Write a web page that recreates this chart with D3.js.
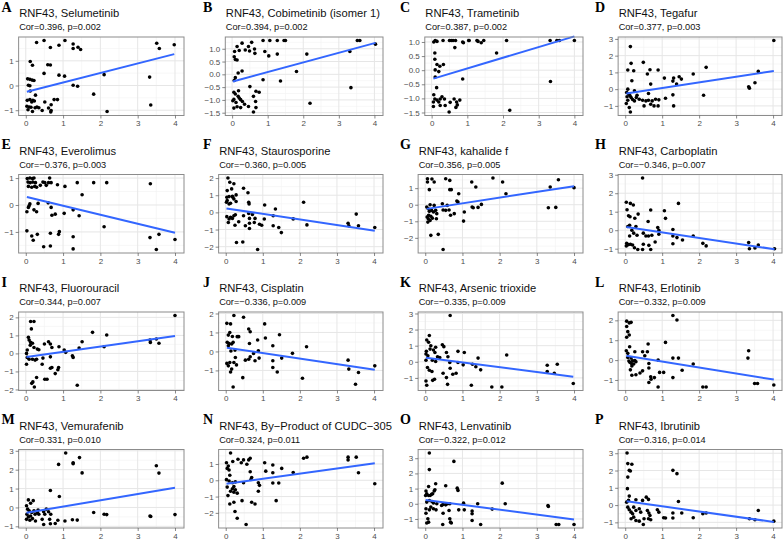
<!DOCTYPE html>
<html>
<head>
<meta charset="utf-8">
<style>
  body { margin: 0; background: #fff; }
  svg { display: block; }
</style>
</head>
<body>
<script src="https://cdn.jsdelivr.net/npm/d3@7"></script>
<script>
const gene = 'RNF43';
const letters = ['A','B','C','D','E','F','G','H','I','J','K','L','M','N','O','P'];
const drugs = ['Selumetinib', 'Cobimetinib (isomer 1)', 'Trametinib', 'Tegafur',
  'Everolimus', 'Staurosporine', 'kahalide f', 'Carboplatin',
  'Fluorouracil', 'Cisplatin', 'Arsenic trioxide', 'Erlotinib',
  'Vemurafenib', 'By\u2212Product of CUDC\u2212305', 'Lenvatinib', 'Ibrutinib'];
const cors = ['0.396', '0.394', '0.387', '0.377', '\u22120.376', '\u22120.360', '0.356', '\u22120.346',
  '0.344', '\u22120.336', '\u22120.335', '\u22120.332', '0.331', '0.324', '\u22120.322', '\u22120.316'];
const pvals = ['0.002', '0.002', '0.002', '0.003', '0.003', '0.005', '0.005', '0.007',
  '0.007', '0.009', '0.009', '0.009', '0.010', '0.011', '0.012', '0.014'];

// fitted line value at the smallest and largest x of each panel
const fitEnds = [[-0.25, 1.27], [-0.28, 1.23], [-0.3, 1.2], [-0.26, 1.08],
  [0.3, -1.03], [0.23, -1.07], [-0.25, 1.12], [0.17, -1.03],
  [-0.2, 0.97], [0.2, -0.97], [0.25, -0.93], [0.22, -0.98],
  [-0.28, 1.04], [-0.22, 1.04], [0.25, -1.03], [0.22, -0.98]];

const xTicks = [0, 1, 2, 3, 4];
const yTicks = [[-1, 0, 1], [-1.5, -1, -0.5, 0, 0.5, 1], [-1.5, -1, -0.5, 0, 0.5, 1], [-1, 0, 1, 2, 3],
  [-1, 0, 1], [-2, -1, 0, 1, 2], [-2, -1, 0, 1], [-1, 0, 1, 2, 3],
  [-2, -1, 0, 1, 2], [-1, 0, 1, 2], [-1, 0, 1, 2, 3], [-1, 0, 1, 2],
  [-1, 0, 1, 2, 3], [-2, -1, 0, 1], [-1, 0, 1, 2, 3], [-1, 0, 1, 2, 3]];

// [RNF43 expression, drug sensitivity]
const ptsA = [[0.29,1.74],[0.49,1.82],[1.05,1.82],[0.89,1.63],[0.66,1.54],[1.27,1.68],[1.27,1.50],[1.40,1.55],[1.47,1.46],[3.51,1.71],[3.58,1.50],[3.98,1.65],
  [0.12,0.97],[0.18,0.82],[0.59,0.84],[0.66,0.83],[0.49,0.49],[0.89,0.42],[1.04,0.38],[2.10,0.44],[3.32,0.34],
  [0.05,0.27],[0.11,0.25],[0.17,0.22],[0.22,0.20],[0.07,0.01],[0.11,-0.01],[1.27,0.01],[1.39,-0.03],
  [0.12,-0.22],[1.82,-0.35],[0.26,-0.39],[0.04,-0.60],[0.11,-0.57],[0.16,-0.67],[0.19,-0.60],[0.23,-0.63],[0.76,-0.57],[0.85,-0.57],[0.51,-0.67],[0.68,-0.78],[3.35,-0.79],
  [0.03,-0.84],[0.09,-0.87],[0.14,-0.88],[0.25,-0.90],[0.30,-0.87],[0.35,-0.90],[0.61,-0.91],[0.68,-1.01],[0.44,-1.01],[0.06,-0.98],[0.18,-1.05],[0.67,-1.07],[2.18,-1.05]];
const ptsB = [[0.87,1.32],[1.06,1.32],[1.27,1.32],[1.46,1.32],[1.50,1.32],[3.52,1.32],[3.59,1.32],[4.03,1.18],
  [0.55,1.25],[0.28,1.22],[0.14,1.09],[0.07,0.89],[0.20,0.93],[0.46,1.09],[0.49,0.91],[0.63,0.99],[0.64,0.82],[0.37,0.95],
  [0.92,0.89],[1.03,0.72],[1.27,0.79],[2.10,0.79],[3.31,0.89],[0.06,0.69],[0.09,0.58],[0.14,0.56],
  [0.17,0.05],[0.28,0.13],[1.81,0.11],[0.06,-0.24],[0.09,-0.13],[0.87,-0.21],[1.36,-0.26],[0.50,-0.48],[3.34,-0.52],
  [0.05,-0.70],[0.09,-0.77],[0.18,-0.64],[0.17,-0.86],[0.20,-0.93],[0.67,-0.66],[0.76,-0.70],[0.60,-0.86],
  [0.02,-1.03],[0.05,-0.98],[0.11,-1.10],[0.24,-0.99],[0.29,-1.06],[0.35,-1.17],[0.14,-1.27],[0.24,-1.30],[0.05,-1.32],[0.46,-1.26],[0.66,-1.06],[0.67,-1.30],[0.60,-1.47],[2.19,-1.13]];
const ptsC = [[0.06,1.0],[0.10,1.05],[0.15,1.02],[0.32,1.05],[0.50,1.05],[0.55,1.05],[0.60,1.05],[0.67,1.05],[0.87,1.0],[0.89,0.97],[1.04,1.05],[1.05,1.05],[1.27,1.05],[1.30,1.02],[1.39,0.97],[1.46,1.05],[2.10,1.05],[3.32,1.05],[3.51,1.05],[3.58,1.05],[4.0,1.05],
  [0.65,0.80],[0.09,0.61],[0.09,0.39],[0.15,0.20],[0.23,0.14],[0.33,0.20],[0.10,0.01],[0.20,-0.05],[0.10,-0.24],[0.14,-0.62],[1.82,0.61],[0.87,-0.31],[3.33,-0.40],
  [0.06,-0.87],[0.09,-1.02],[0.05,-1.13],[0.05,-1.29],[0.15,-1.06],[0.20,-1.13],[0.24,-1.02],[0.29,-0.94],[0.36,-1.02],[0.24,-1.25],[0.38,-1.25],[0.49,-1.48],[0.52,-1.14],[0.63,-1.02],[0.70,-1.13],[0.72,-1.23],[0.68,-1.32],[0.79,-1.06],[2.19,-1.42]];
const ptsD = [[4.02,2.90],[0.14,2.54],[0.16,1.54],[0.49,1.60],[0.07,1.14],[0.23,1.10],[0.67,1.16],[0.89,1.14],[0.18,0.50],[0.69,0.30],[0.60,0.90],[1.84,0.90],[2.19,1.30],[3.60,1.06],
  [1.31,0.66],[1.46,0.74],[1.52,0.60],[1.06,0.66],[1.29,0.48],[1.39,0.30],[3.51,0.38],[3.34,0.14],[3.36,0.06],
  [0.07,0.0],[0.04,-0.20],[0.25,-0.10],[0.32,-0.36],[0.38,-0.60],[0.47,-0.66],[0.56,-0.70],[0.63,-0.66],[0.73,-0.70],[0.63,-0.26],[0.82,-0.60],[0.91,-0.64],[0.69,-0.90],[0.78,-1.0],[0.89,-1.0],[0.51,-1.0],[1.31,-1.0],[1.29,-0.34],[1.09,-0.54],[2.12,-0.36],
  [0.11,-1.10],[0.14,-1.36],[0.03,-0.86],[0.25,-0.70],[0.16,-0.50],[0.07,-0.66],[0.20,-0.62],[0.10,-0.30],[0.05,-0.45],[0.13,-0.40],[0.30,-0.50]];
const ptsE = [[0.04,0.98],[0.11,1.0],[0.18,0.98],[0.22,1.0],[0.06,0.85],[0.12,0.83],[0.19,0.85],[0.26,0.83],[0.07,0.69],[0.16,0.66],[0.24,0.69],[0.29,0.66],[0.39,0.73],[0.46,0.85],[0.51,0.83],[0.55,0.73],[0.61,0.83],[0.64,1.0],[0.68,0.83],[0.85,0.75],[1.05,0.69],[1.38,0.83],[1.82,0.83],[2.17,0.83],[3.34,0.79],
  [1.51,0.38],[0.11,0.04],[0.09,-0.03],[0.07,-0.09],[0.33,0.06],[0.60,0.08],
  [0.03,-0.25],[0.22,-0.18],[0.29,-0.25],[0.68,-0.09],[0.70,-0.38],[0.79,-0.34],[1.03,-0.31],[1.27,-0.18],[1.43,-0.40],[2.10,-0.81],
  [0.03,-0.96],[0.31,-1.09],[0.16,-1.15],[0.20,-1.31],[0.66,-1.05],[0.90,-0.99],[0.88,-1.09],[1.27,-1.18],[3.33,-1.21],[3.57,-1.09],[4.0,-1.28],
  [0.48,-1.55],[0.66,-1.52],[1.27,-1.63],[3.50,-1.65]];
const ptsF = [[0.06,2.0],[0.11,1.76],[0.22,1.67],[0.16,1.37],[0.48,1.41],[0.60,1.14],[0.62,0.59],[0.63,0.49],[0.28,1.02],
  [0.04,1.27],[0.03,0.88],[0.09,0.92],[0.18,0.94],[0.22,0.78],[0.04,0.69],[0.02,0.59],[0.09,0.49],[0.13,0.53],[0.19,0.88],[0.28,0.63],
  [0.07,-0.59],[0.13,-0.29],[0.18,-0.35],[0.09,-0.39],[0.22,-0.20],[0.03,-0.25],[0.26,-0.14],[0.48,-0.20],[0.62,-0.06],[0.64,-0.35],[0.72,-0.12],[0.79,-0.35],[0.25,-0.75],[0.35,-0.55],
  [0.53,-0.78],[0.64,-0.63],[0.64,-0.94],[0.77,-0.59],[0.91,-0.69],[0.97,-0.75],[1.05,0.43],[1.34,0.20],[1.04,-0.39],[1.28,-0.20],[1.28,-0.78],[1.43,-0.88],[1.50,-1.18],[1.82,-0.38],[2.10,0.59],[2.19,-0.73],[3.30,-0.63],[3.32,-0.78],[3.52,-0.10],[3.58,-0.78],[4.02,-0.88],
  [0.29,-1.76],[0.46,-1.73],[0.86,-2.16]];
const ptsG = [[0.06,1.57],[0.06,1.37],[0.18,1.55],[0.24,1.37],[0.55,1.57],[0.66,1.47],[1.82,1.61],[2.08,1.37],[3.36,1.07],[3.58,1.51],[4.0,1.03],[1.25,1.37],[1.36,1.07],
  [0.11,0.91],[0.66,0.91],[0.70,0.91],[0.90,0.66],[0.85,0.22],[0.88,0.16],[2.17,0.66],
  [0.46,0.06],[0.24,-0.04],[0.13,0.0],[0.59,-0.04],[1.51,0.02],[1.26,-0.14],[1.29,-0.18],[1.42,-0.16],[3.31,-0.18],[3.51,-0.16],
  [0.04,-0.14],[0.08,-0.24],[0.11,-0.40],[0.17,-0.34],[0.22,-0.44],[0.28,-0.34],[0.31,-0.54],[0.09,-0.64],[0.05,-0.74],[0.08,-0.85],[0.13,-0.95],[0.19,-0.81],[0.07,-1.05],[0.15,-0.70],
  [0.48,-0.32],[0.55,-0.34],[0.64,-0.32],[0.68,-0.64],[0.78,-0.54],[1.05,-0.44],[1.03,-0.99],[0.30,-0.85],
  [0.15,-1.85],[0.35,-1.79],[0.48,-2.70]];
const ptsH = [[0.47,2.82],[0.03,1.51],[0.14,1.45],[0.22,1.36],[1.44,1.45],
  [0.05,1.11],[0.09,0.78],[0.13,0.73],[0.35,0.87],[0.69,1.09],[1.06,1.05],[1.09,0.64],[0.26,0.65],
  [0.12,0.27],[0.07,0.20],[0.29,0.20],[0.62,0.47],[0.88,0.15],[0.91,0.0],[1.29,0.04],
  [0.18,0.0],[0.23,-0.16],[0.12,-0.31],[0.32,-0.27],[0.49,-0.16],[0.56,-0.31],[0.63,-0.31],[0.72,-0.27],[0.91,-0.22],[1.29,-0.31],[1.40,-0.40],[1.55,-0.53],[1.84,-0.31],[0.81,-0.64],
  [0.04,-0.71],[0.09,-0.78],[0.14,-0.76],[0.03,-0.85],[0.20,-0.80],[0.25,-0.95],[0.34,-1.04],[0.49,-0.76],[0.64,-0.82],[0.69,-1.04],[0.47,-1.04],[1.29,-0.73],[2.10,-0.71],[2.19,-0.85],[3.34,-0.67],[3.36,-1.0],[3.51,-0.96],[3.60,-0.80],[4.04,-1.0]];
const ptsI = [[4.0,2.10],[0.13,1.77],[0.22,1.77],[0.15,1.36],
  [1.79,1.17],[2.17,1.02],[1.51,0.65],[3.33,0.74],[3.50,0.80],[3.34,0.61],[3.57,0.56],
  [0.07,0.89],[0.09,0.74],[0.13,0.61],[0.18,0.56],[0.12,0.45],[0.61,0.65],[0.66,0.52],[0.70,0.33],[0.50,0.52],[0.89,0.37],[0.31,0.24],[0.35,0.20],[0.22,0.33],[0.04,0.19],[0.02,0.0],
  [1.03,0.19],[1.07,0.06],[1.43,0.30],[1.25,-0.13],[1.27,-0.22],[2.10,0.37],
  [0.04,-0.22],[0.09,-0.32],[0.18,-0.32],[0.25,-0.37],[0.29,-0.32],[0.02,-0.60],[0.46,-0.26],[0.66,-0.19],[0.44,-0.60],[0.70,-0.78],[0.66,-0.82],[0.88,-0.78],[0.86,-0.91],[0.79,-1.12],
  [0.29,-1.34],[0.19,-1.58],[0.16,-1.66],[0.23,-1.86],[0.51,-1.43],[0.57,-1.43],[1.38,-1.77]];
const ptsJ = [[0.22,1.89],[0.48,1.80],[0.03,1.48],[0.13,1.45],[1.05,1.45],
  [0.07,0.86],[0.18,0.79],[0.31,0.78],[0.35,0.78],[0.62,1.18],[0.66,1.04],[0.11,1.0],[0.64,0.42],[0.86,0.60],[1.07,0.71],[1.45,0.88],[1.27,0.30],[2.18,0.25],
  [0.04,0.48],[0.09,0.42],[0.16,0.39],[0.20,0.48],[0.07,0.30],[0.25,0.07],[0.14,0.02],
  [0.88,0.04],[0.75,-0.11],[0.66,-0.28],[0.62,-0.41],[0.53,-0.46],[0.79,-0.49],[0.90,-0.35],[1.51,-0.35],[1.80,-0.10],[1.27,-0.49],[1.27,-0.85],[1.39,-1.08],[2.07,-1.41],[3.30,-0.46],[3.32,-0.93],[3.58,-1.11],[3.50,-1.73],[4.02,-0.76],
  [0.03,-0.63],[0.07,-0.76],[0.11,-0.58],[0.22,-0.58],[0.26,-0.32],[0.29,-0.71],[0.16,-0.93],[0.13,-1.08],[0.46,-1.38],[0.20,-1.87]];
const ptsK = [[0.67,2.87],[0.11,1.63],[0.04,1.35],[0.09,1.21],[0.15,1.0],[0.46,1.06],[0.50,0.94],[0.13,0.79],[0.22,0.73],[0.28,0.90],[0.03,0.65],[0.57,0.58],[0.26,0.58],[1.05,0.58],[0.88,0.65],[2.19,0.42],
  [0.02,0.48],[0.07,0.38],[0.33,0.31],[0.39,0.27],[0.61,0.31],[1.42,0.23],
  [0.02,0.10],[0.19,0.10],[0.28,0.02],[0.66,-0.04],[0.88,-0.04],[1.02,-0.19],[1.27,-0.15],[1.36,-0.31],[1.49,-0.50],[3.28,-0.21],[3.55,-0.15],
  [0.06,-0.35],[0.11,-0.52],[0.18,-0.60],[0.48,-0.71],[0.57,-0.98],[0.67,-0.40],[0.74,-0.77],[0.83,-0.71],[3.28,-0.60],[3.47,-0.71],[3.98,-1.35],
  [0.02,-1.19],[0.20,-1.15],[0.25,-1.08],[0.04,-1.46],[0.60,-1.40],[1.24,-1.46],[1.79,-1.56],[2.06,-1.56]];
const ptsL = [[1.29,2.24],[1.40,2.02],[0.04,1.96],[0.11,1.87],[0.16,1.90],[0.04,1.69],[0.07,1.43],[0.11,1.26],[0.04,1.15],
  [0.12,0.67],[0.62,0.81],[1.09,0.89],
  [0.03,0.47],[0.07,0.34],[0.26,0.42],[0.47,0.42],[0.53,0.22],[0.60,0.42],[3.34,0.47],[3.32,0.10],
  [0.07,0.13],[0.16,0.10],[0.20,-0.03],[0.13,-0.12],[0.17,-0.17],[0.23,-0.20],[0.26,-0.02],[0.29,-0.08],[0.18,-0.30],[0.10,-0.05],
  [0.64,-0.17],[0.89,0.0],[1.29,0.10],[1.44,0.10],[1.84,-0.20],[1.54,-0.51],
  [0.14,-0.49],[0.18,-0.76],[0.29,-0.74],[0.40,-0.65],[0.47,-0.54],[0.64,-0.40],[0.69,-0.84],[0.70,-0.96],[0.79,-0.88],[0.64,-1.13],[0.93,-0.62],[1.04,-0.62],[1.29,-0.88],[0.89,-1.35],
  [2.10,-1.35],[2.19,-1.35],[3.50,-1.18],[3.58,-1.18],[4.02,-1.25]];
const ptsM = [[1.07,2.88],[1.44,2.64],[1.27,2.37],[1.27,2.32],[0.88,2.28],[1.51,1.83],[3.50,2.21],[3.57,1.82],
  [0.66,0.90],[0.90,0.58],[0.07,0.40],[0.20,0.36],[0.13,0.22],
  [1.82,-0.27],[2.10,-0.36],[2.17,-0.38],[3.33,-0.45],[3.35,-0.48],[4.0,-0.38],
  [0.02,0.09],[0.05,-0.09],[0.09,-0.18],[0.03,-0.36],[0.07,-0.50],[0.13,-0.45],[0.18,-0.59],[0.25,-0.36],[0.31,-0.27],[0.35,-0.36],[0.26,-0.72],[0.02,-0.63],[0.11,-0.68],[0.16,-0.27],[0.22,-0.18],[0.33,-0.14],
  [0.48,-0.23],[0.55,-0.09],[0.51,-0.36],[0.61,-0.23],[0.67,-0.36],[0.64,-0.63],[0.44,-0.63],[0.48,-0.90],[0.66,-0.86],[0.79,-0.85],[0.86,-0.68],[1.05,-0.72],[1.25,-0.65],[1.38,-0.67]];
const ptsN = [[0.13,1.67],[0.19,1.15],[0.48,1.25],[0.57,0.98],[0.62,1.25],[0.66,1.35],[0.33,1.29],[0.42,1.08],
  [0.02,1.08],[0.07,0.88],[0.04,0.73],[0.09,0.63],[0.11,0.31],
  [1.05,1.08],[1.27,0.94],[1.51,0.73],[2.10,1.35],[2.19,1.42],[3.30,1.42],[3.30,1.25],[3.52,1.42],[3.58,0.46],[4.02,-0.21],
  [1.08,0.56],[1.27,0.46],[1.82,0.48],[0.66,0.52],[0.70,0.17],[0.68,0.05],[0.88,-0.15],[0.91,-0.31],[0.88,-0.67],[1.27,-0.17],[1.43,-0.17],
  [0.02,0.04],[0.09,-0.04],[0.18,-0.15],[0.26,-0.10],[0.48,-0.15],[0.22,-0.38],[0.18,-0.52],[0.26,-0.58],[0.13,-0.67],[0.22,-0.73],[0.31,-0.79],[0.04,-0.42],[0.06,-0.94],
  [0.11,-1.46],[0.22,-1.35],[0.44,-1.25],[0.70,-1.35],[0.79,-1.46],[1.36,-1.25],
  [0.25,-1.92],[0.31,-2.33],[0.55,-2.71]];
const ptsO = [[0.11,3.34],[0.11,2.25],[0.77,2.79],
  [0.28,1.32],[0.55,1.19],[0.86,1.03],[0.88,0.88],[2.07,1.36],[0.09,1.14],
  [0.02,0.84],[0.04,0.66],[0.01,0.55],[0.09,0.55],[0.13,0.55],[0.20,0.66],[0.24,0.84],[0.26,0.92],[0.17,0.62],
  [1.03,0.04],[1.41,0.0],[2.15,0.0],[3.30,-0.11],[3.31,-0.18],
  [0.04,0.11],[0.11,0.22],[0.18,0.15],[0.22,0.05],[0.31,0.0],[0.44,-0.11],[0.48,-0.04],[0.55,-0.07],[0.60,0.0],[0.66,0.0],
  [0.02,-0.33],[0.11,-0.40],[0.15,-0.22],[0.22,-0.33],[0.29,-0.40],[0.48,-0.62],[0.64,-0.44],[0.90,-0.40],[1.05,-0.40],[1.26,-0.48],[1.26,-0.66],[1.80,-0.35],
  [0.02,-0.62],[0.07,-0.99],[0.09,-1.21],[0.04,-1.27],[0.66,-0.99],[0.68,-1.21],[0.70,-1.27],[1.26,-1.10],[1.49,-1.36],[0.47,-1.36],[3.52,-1.36],[3.59,-1.36],[4.0,-1.36]];
const ptsP = [[0.05,3.01],[0.07,2.40],[0.18,2.36],[0.11,2.01],[0.14,1.97],[0.07,1.62],[0.06,0.95],[1.29,2.01],[1.40,1.82],
  [0.11,0.52],[0.04,0.17],[0.09,0.27],[0.29,0.31],[0.47,0.27],[0.57,0.46],[0.63,0.33],[1.44,0.21],[3.60,-0.31],
  [0.07,-0.12],[0.11,-0.27],[0.16,-0.41],[0.23,-0.12],[0.20,-0.50],[0.29,-0.31],[0.38,-0.21],[0.42,-0.41],[0.23,-0.70],[0.29,-0.89],[0.16,-0.79],[0.38,-0.93],[0.49,-1.12],[0.51,-0.79],[0.60,-0.31],[0.64,-0.46],[0.67,-0.60],[0.63,-0.79],[0.69,-0.85],[0.87,-0.27],[0.91,-0.41],[1.04,-0.73],[1.09,-0.75],[1.29,-0.46],[1.29,-0.75],[1.53,-0.46],[1.84,-0.73],[2.10,-0.50],[2.19,-0.46],[3.36,-0.79],[3.51,-0.85],[4.02,-0.93]];

const panelPoints = [ptsA, ptsB, ptsC, ptsD, ptsE, ptsF, ptsG, ptsH, ptsI, ptsJ, ptsK, ptsL, ptsM, ptsN, ptsO, ptsP];

// layout
const W = 784, H = 542;
const colLabelStart = [4.5, 204.5, 404, 604];
const colRight = [184, 383, 583, 782];
const colLetterX = [1.5, 203, 400, 595];
const rowTop = 37, rowPitch = 137.5, plotH = 78.5;

const svg = d3.select('body').append('svg')
  .attr('width', W)
  .attr('height', H)
  .style('font-family', '"Liberation Sans", Arial, sans-serif');

svg.append('rect').attr('width', W).attr('height', H).attr('fill', '#fff');

const fmt = (v, dec) => (dec ? v.toFixed(1) : String(v)).replace('-', '\u2212');

// measure label width
const measurer = svg.append('text').attr('font-size', 8);
function textW(s) {
  measurer.text(s);
  return measurer.node().getComputedTextLength();
}

const allX = panelPoints.flat().map((d) => d[0]);
const xExt = d3.extent(allX);
const xPad = (xExt[1] - xExt[0]) * 0.05;

panelPoints.forEach((pts, i) => {
  const col = i % 4, row = Math.floor(i / 4);
  const ticks = yTicks[i];
  const dec = ticks.some((t) => !Number.isInteger(t));
  const maxW = d3.max(ticks, (t) => textW(fmt(t, dec)));

  const left = colLabelStart[col] + maxW + 5;
  const right = colRight[col];
  const top = rowTop + row * rowPitch;
  const bottom = top + plotH;

  const yExt = d3.extent(pts, (d) => d[1]);
  const yPad = (yExt[1] - yExt[0]) * 0.05;

  const x = d3.scaleLinear().domain([xExt[0] - xPad, xExt[1] + xPad]).range([left, right]);
  const y = d3.scaleLinear().domain([yExt[0] - yPad, yExt[1] + yPad]).range([bottom, top]);

  const g = svg.append('g');

  // minor grid
  const step = ticks[1] - ticks[0];
  const yMinor = [ticks[0] - step / 2].concat(ticks.map((t) => t + step / 2))
    .filter((v) => v > y.domain()[0] && v < y.domain()[1]);
  const xMinor = [-0.5, 0.5, 1.5, 2.5, 3.5, 4.5].filter((v) => v > x.domain()[0] && v < x.domain()[1]);

  g.selectAll('line.ymin').data(yMinor).enter().append('line')
    .attr('x1', left).attr('x2', right)
    .attr('y1', (d) => y(d)).attr('y2', (d) => y(d))
    .attr('stroke', '#f2f2f2').attr('stroke-width', 0.6);
  g.selectAll('line.xmin').data(xMinor).enter().append('line')
    .attr('y1', top).attr('y2', bottom)
    .attr('x1', (d) => x(d)).attr('x2', (d) => x(d))
    .attr('stroke', '#f2f2f2').attr('stroke-width', 0.6);
  g.selectAll('line.ymaj').data(ticks).enter().append('line')
    .attr('x1', left).attr('x2', right)
    .attr('y1', (d) => y(d)).attr('y2', (d) => y(d))
    .attr('stroke', '#e6e6e6').attr('stroke-width', 1);
  g.selectAll('line.xmaj').data(xTicks).enter().append('line')
    .attr('y1', top).attr('y2', bottom)
    .attr('x1', (d) => x(d)).attr('x2', (d) => x(d))
    .attr('stroke', '#e6e6e6').attr('stroke-width', 1);

  // points
  g.selectAll('circle').data(pts).enter().append('circle')
    .attr('cx', (d) => x(d[0]))
    .attr('cy', (d) => y(d[1]))
    .attr('r', 1.8)
    .attr('fill', '#000');

  // fitted line
  const px = d3.extent(pts, (d) => d[0]);
  const line = d3.line().x((d) => x(d[0])).y((d) => y(d[1]));
  g.append('path')
    .datum([[px[0], fitEnds[i][0]], [px[1], fitEnds[i][1]]])
    .attr('d', line)
    .attr('fill', 'none')
    .attr('stroke', '#3366FF')
    .attr('stroke-width', 2);

  // border
  g.append('rect')
    .attr('x', left).attr('y', top)
    .attr('width', right - left).attr('height', bottom - top)
    .attr('fill', 'none').attr('stroke', '#8c8c8c').attr('stroke-width', 1);

  // axes
  const yAxis = g.append('g').attr('transform', `translate(${left},0)`)
    .call(d3.axisLeft(y).tickValues(ticks).tickFormat((d) => fmt(d, dec)).tickSize(3).tickPadding(2));
  const xAxis = g.append('g').attr('transform', `translate(0,${bottom})`)
    .call(d3.axisBottom(x).tickValues(xTicks).tickFormat((d) => fmt(d, false)).tickSize(3).tickPadding(2));
  [yAxis, xAxis].forEach((a) => {
    a.select('.domain').remove();
    a.selectAll('line').attr('stroke', '#555').attr('stroke-width', 0.7);
    a.selectAll('text').attr('font-size', 8).attr('fill', '#4d4d4d')
      .attr('font-family', '"Liberation Sans", Arial, sans-serif');
  });

  // titles
  g.append('text')
    .attr('x', colLetterX[col]).attr('y', top - 25.5)
    .attr('font-family', '"Liberation Serif", "Times New Roman", serif')
    .attr('font-weight', 'bold').attr('font-size', 14)
    .text(letters[i]);
  g.append('text')
    .attr('x', left + 0.5).attr('y', top - 20)
    .attr('font-size', 11.2).attr('fill', '#111')
    .text(`${gene}, ${drugs[i]}`);
  g.append('text')
    .attr('x', left + 0.5).attr('y', top - 7)
    .attr('font-size', 9.2).attr('fill', '#111')
    .text(`Cor=${cors[i]}, p=${pvals[i]}`);
});

measurer.remove();
</script>
</body>
</html>
